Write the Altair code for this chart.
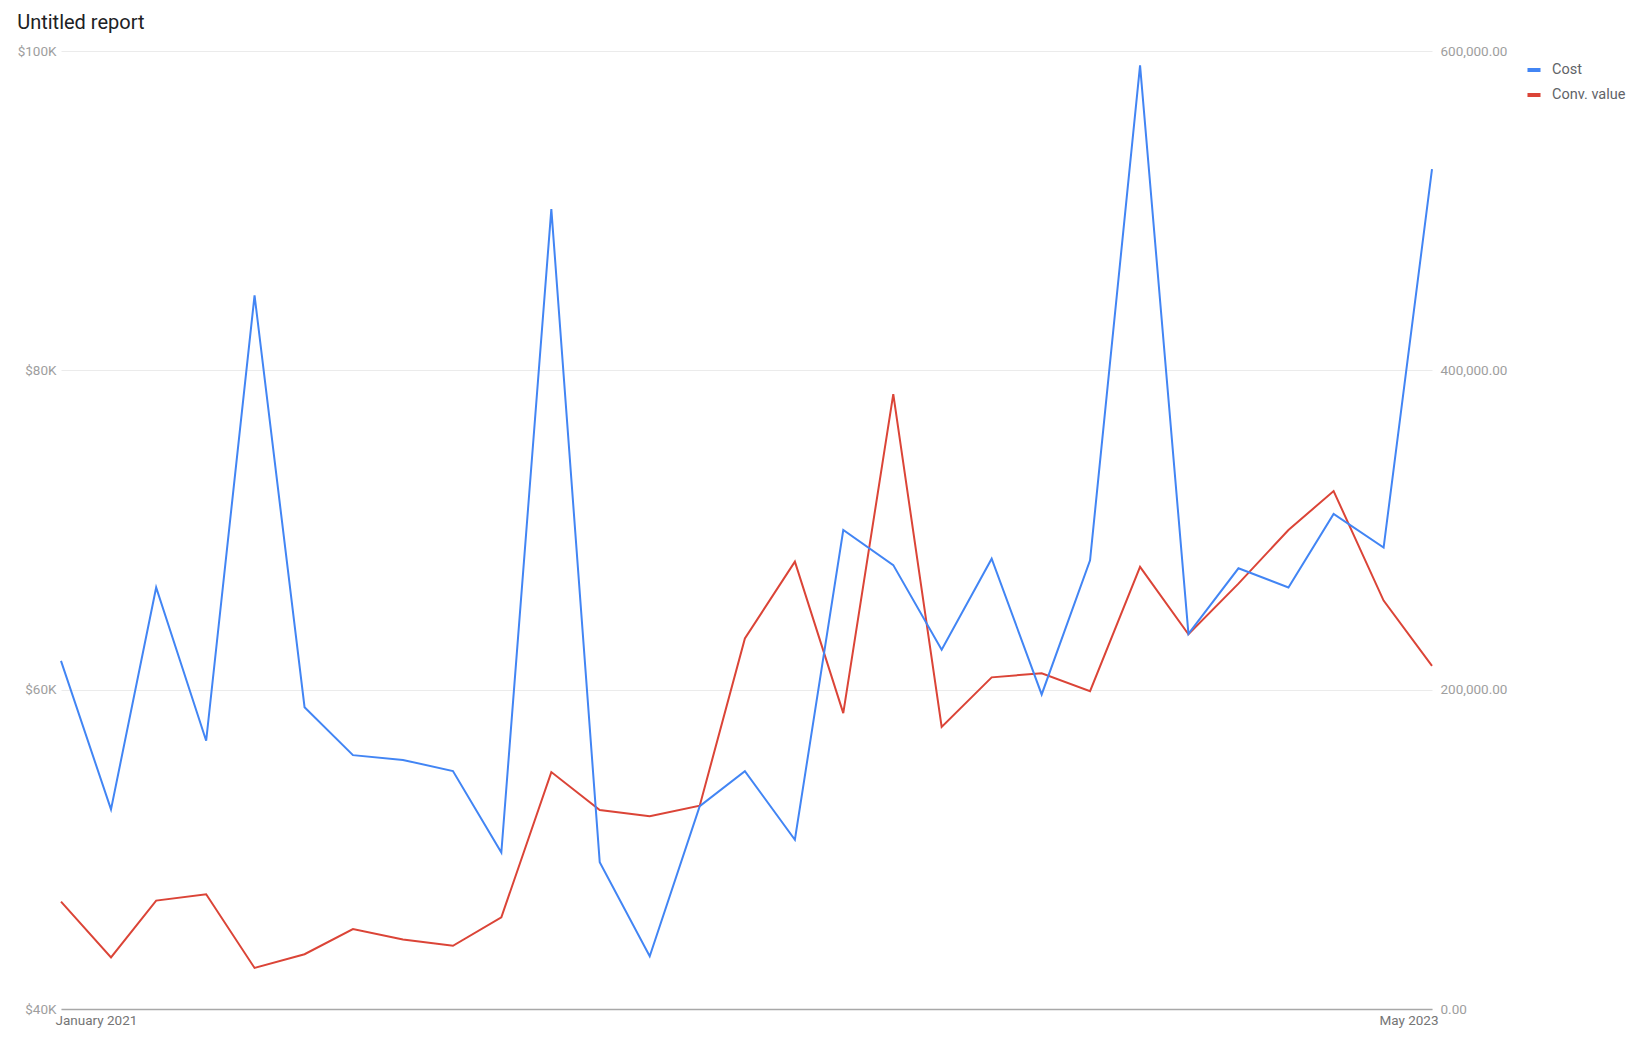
import altair as alt
import pandas as pd

months = pd.date_range("2021-01-01", "2023-05-01", freq="MS").strftime("%Y-%m-%d").tolist()

cost = [61.8, 52.5, 66.4, 56.8, 84.7, 58.9, 55.9, 55.6, 54.9, 49.8,
        90.1, 49.2, 43.3, 52.7, 54.9, 50.6, 70.0, 67.8, 62.5, 68.2,
        59.7, 68.1, 99.1, 63.5, 67.6, 66.4, 71.0, 68.9, 92.6]
cost = [v * 1000 for v in cost]

conv_value = [67250, 32300, 67900, 71900, 25700, 34300, 50100, 43500, 39600, 57400,
              148400, 124600, 120700, 127300, 232100, 280200, 185300, 385100, 176700, 207700,
              210300, 199100, 276900, 234700, 266400, 300000, 324400, 255800, 214900]

series_names = ["Cost", "Conv. value"]
series_colors = ["#4285F4", "#DB4437"]

df = pd.DataFrame({"month": months, "cost": cost, "conv": conv_value})

color_scale = alt.Scale(domain=series_names, range=series_colors)

x_enc = alt.X(
    "month:T",
    title=None,
    scale=alt.Scale(padding=0),
    axis=alt.Axis(
        values=[months[0], months[-1]],
        format="%B %Y",
        labelFlush=True,
        labelFlushOffset=6,
        grid=False,
        ticks=False,
        domain=True,
        domainColor="#a8a8a8",
        domainWidth=1.5,
        labelColor="#757575",
        labelFontSize=13.5,
        labelPadding=4,
    ),
)

base = alt.Chart(df)

cost_line = base.transform_calculate(series="'Cost'").mark_line(strokeWidth=2).encode(
    x=x_enc,
    y=alt.Y(
        "cost:Q",
        title=None,
        scale=alt.Scale(domain=[40000, 100000], nice=False, zero=False),
        axis=alt.Axis(
            orient="left",
            values=[40000, 60000, 80000, 100000],
            labelExpr="'$' + format(datum.value / 1000, 'd') + 'K'",
            grid=True,
            gridColor="#ebebeb",
            ticks=False,
            domain=False,
            labelColor="#9e9e9e",
            labelFontSize=13.5,
            labelPadding=5,
        ),
    ),
    color=alt.Color("series:N", scale=color_scale, legend=alt.Legend(title=None)),
)

conv_line = base.transform_calculate(series="'Conv. value'").mark_line(strokeWidth=2).encode(
    x=x_enc,
    y=alt.Y(
        "conv:Q",
        title=None,
        scale=alt.Scale(domain=[0, 600000], nice=False),
        axis=alt.Axis(
            orient="right",
            values=[0, 200000, 400000, 600000],
            format=",.2f",
            grid=False,
            ticks=False,
            domain=False,
            labelColor="#9e9e9e",
            labelFontSize=13.5,
            labelPadding=8,
        ),
    ),
    color=alt.Color("series:N", scale=color_scale, legend=alt.Legend(title=None)),
)

chart = (
    alt.layer(conv_line, cost_line)
    .resolve_scale(y="independent")
    .properties(
        width=1371,
        height=958,
        padding={"left": 9, "top": 5, "right": 5, "bottom": 5},
        title=alt.TitleParams(
            "Untitled report",
            anchor="start",
            frame="bounds",
            fontSize=20,
            fontWeight="normal",
            color="#202124",
            font="Roboto",
            offset=11,
        ),
    )
    .configure(font="Roboto")
    .configure_view(stroke=None)
    .configure_legend(
        orient="right",
        labelFontSize=14.5,
        labelColor="#5f6368",
        labelOffset=9,
        symbolType="stroke",
        symbolStrokeWidth=4,
        symbolSize=170,
        rowPadding=8,
        offset=8,
        padding=10,
    )
)

chart.save("out.html", embed_options={"renderer": "svg", "actions": False})
